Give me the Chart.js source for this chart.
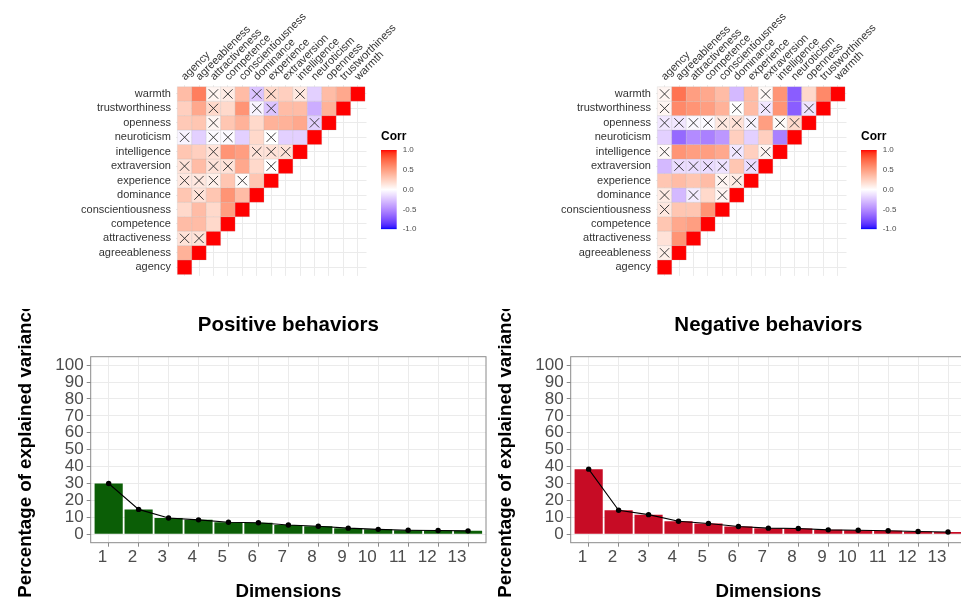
<!DOCTYPE html>
<html>
<head>
<meta charset="utf-8">
<script src="https://cdn.jsdelivr.net/npm/chart.js@4/dist/chart.umd.min.js"></script>
<style>
html,body{margin:0;padding:0;background:#fff;}
#wrap{position:relative;width:961px;height:603px;overflow:hidden;background:#fff;}
canvas{position:absolute;display:block;}
</style>
</head>
<body>
<div id="wrap">
  <canvas id="hm1" width="440" height="290" style="left:0px;top:0px"></canvas>
  <canvas id="hm2" width="440" height="290" style="left:480px;top:0px"></canvas>
  <canvas id="cb1" width="60" height="115" style="left:378px;top:125px"></canvas>
  <canvas id="cb2" width="60" height="115" style="left:858px;top:125px"></canvas>
  <canvas id="bar1" width="490" height="294" style="left:0px;top:309px"></canvas>
  <canvas id="bar2" width="490" height="294" style="left:480px;top:309px"></canvas>
</div>
<script>
// ---------------- DATA ----------------
const variables = ['agency','agreeableness','attractiveness','competence','conscientiousness','dominance','experience','extraversion','intelligence','neuroticism','openness','trustworthiness','warmth'];

// lower triangle: row i holds correlations of variables[i] with variables[0..i-1]
const posCorr = [
  [],
  [0.40],
  [0.15, 0.15],
  [0.35, 0.35, 0.20],
  [0.20, 0.35, 0.20, 0.50],
  [0.30, 0.15, 0.30, 0.55, 0.35],
  [0.12, 0.12, 0.08, 0.30, 0.02, 0.30],
  [0.15, 0.35, 0.15, 0.15, 0.45, 0.20, 0.00],
  [0.30, 0.25, 0.15, 0.55, 0.50, 0.15, 0.15, 0.15],
  [-0.05, -0.20, -0.02, -0.02, -0.20, 0.20, 0.00, -0.20, -0.20],
  [0.28, 0.30, 0.05, 0.30, 0.40, 0.20, 0.40, 0.40, 0.45, -0.20],
  [0.25, 0.45, 0.20, 0.20, 0.55, -0.05, -0.25, 0.35, 0.35, -0.35, 0.40],
  [0.35, 0.65, 0.05, 0.10, 0.35, -0.25, 0.20, 0.25, 0.12, -0.20, 0.35, 0.45]
];
// column indices of non-significant correlations (crossed cells), per row
const posInsig = [
  [], [], [0, 1], [], [], [1], [0, 1, 2, 4], [0, 2, 3, 6], [2, 5, 6, 7], [0, 2, 3, 6], [2, 9], [2, 5, 6], [2, 3, 5, 6, 8]
];

const negCorr = [
  [],
  [0.08],
  [0.15, 0.55],
  [0.30, 0.45, 0.50],
  [0.12, 0.30, 0.30, 0.55],
  [0.10, -0.30, -0.08, 0.20, 0.05],
  [0.30, 0.35, 0.30, 0.35, 0.05, 0.10],
  [-0.30, -0.15, -0.15, -0.15, -0.12, 0.30, -0.15],
  [0.03, 0.55, 0.50, 0.50, 0.45, -0.10, 0.25, 0.05],
  [-0.20, -0.65, -0.50, -0.55, -0.45, 0.25, -0.20, 0.25, -0.55],
  [-0.10, -0.10, -0.03, -0.02, 0.12, 0.15, -0.05, 0.50, 0.02, 0.20],
  [0.05, 0.60, 0.55, 0.50, 0.40, 0.00, 0.35, -0.10, 0.55, -0.70, -0.12],
  [0.05, 0.70, 0.50, 0.45, 0.35, -0.30, 0.35, 0.03, 0.55, -0.70, 0.20, 0.60]
];
const negInsig = [
  [], [0], [], [], [0], [0, 2, 4], [4, 5], [1, 2, 3, 4, 6], [0, 5, 7], [], [0, 1, 2, 3, 4, 5, 6, 8, 9], [0, 5, 7, 10], [0, 7]
];

const dimensionLabels = ['1','2','3','4','5','6','7','8','9','10','11','12','13'];
const dimensions = [1,2,3,4,5,6,7,8,9,10,11,12,13];
const posVariance = [30.0, 14.7, 9.6, 8.5, 7.1, 6.8, 5.5, 4.7, 3.6, 2.9, 2.4, 2.2, 2.0];
const negVariance = [38.5, 14.2, 11.6, 7.7, 6.4, 4.6, 3.6, 3.4, 2.6, 2.4, 2.1, 1.6, 1.3];
const varianceTicks = [0, 10, 20, 30, 40, 50, 60, 70, 80, 90, 100];

const legendTicks = [-1, -0.5, 0, 0.5, 1];

// ---------------- SETUP ----------------
const FONT = "'Liberation Sans', Arial, Helvetica, sans-serif";
Chart.defaults.font.family = FONT;
Chart.defaults.animation = false;
Chart.defaults.responsive = false;
Chart.defaults.devicePixelRatio = 1;
Chart.defaults.plugins.legend.display = false;
Chart.defaults.plugins.tooltip.enabled = false;

// Lab-space diverging palette blue - white - red
function srgbToLin(c){c/=255;return c<=0.04045?c/12.92:Math.pow((c+0.055)/1.055,2.4);}
function linToSrgb(c){c=c<=0.0031308?12.92*c:1.055*Math.pow(c,1/2.4)-0.055;return Math.round(Math.max(0,Math.min(1,c))*255);}
const Xn=0.95047,Yn=1,Zn=1.08883;
function rgbToLab(rgb){
  const R=srgbToLin(rgb[0]),G=srgbToLin(rgb[1]),B=srgbToLin(rgb[2]);
  const X=0.4124*R+0.3576*G+0.1805*B, Y=0.2126*R+0.7152*G+0.0722*B, Z=0.0193*R+0.1192*G+0.9505*B;
  const f=t=>t>0.008856?Math.cbrt(t):7.787*t+16/116;
  const fx=f(X/Xn),fy=f(Y/Yn),fz=f(Z/Zn);
  return [116*fy-16,500*(fx-fy),200*(fy-fz)];
}
function labToRgb(lab){
  const fy=(lab[0]+16)/116, fx=fy+lab[1]/500, fz=fy-lab[2]/200;
  const fi=t=>t>0.206893?t*t*t:(t-16/116)/7.787;
  const X=Xn*fi(fx),Y=Yn*fi(fy),Z=Zn*fi(fz);
  const R=3.2406*X-1.5372*Y-0.4986*Z, G=-0.9689*X+1.8758*Y+0.0415*Z, B=0.0557*X-0.2040*Y+1.0570*Z;
  return [linToSrgb(R),linToSrgb(G),linToSrgb(B)];
}
const LAB_LOW=rgbToLab([0,0,255]), LAB_MID=rgbToLab([255,255,255]), LAB_HIGH=rgbToLab([255,0,0]);
function corrColor(v){
  const t=Math.max(-1,Math.min(1,v));
  const end=t<0?LAB_LOW:LAB_HIGH, k=Math.abs(t);
  const c=labToRgb([0,1,2].map(i=>LAB_MID[i]+(end[i]-LAB_MID[i])*k));
  return 'rgb('+c[0]+','+c[1]+','+c[2]+')';
}

function cellPoints(corr){
  const pts=[];
  corr.forEach((row,i)=>{ row.forEach((v,j)=>pts.push({x:j,y:i,v:v})); pts.push({x:i,y:i,v:1}); });
  return pts;
}
function crossPoints(insig){
  const pts=[];
  insig.forEach((cols,i)=>cols.forEach(j=>pts.push({x:j,y:i})));
  return pts;
}
const setTicks = values => (s => { s.ticks = values.map(v => ({value: v})); });

// ---------------- HEATMAPS ----------------
function heatmap(id, corr, insig){
  const canvas=document.getElementById(id);
  const W=canvas.width, H=canvas.height;
  const AREA={left:175.9, right:366.5, top:85.3, bottom:275.9};
  const cellRadius=c=>{const s=c.chart.scales.x;return Math.abs(s.getPixelForValue(1)-s.getPixelForValue(0))/Math.SQRT2;};
  const tickFont={size:11};
  const idx=variables.map((_,i)=>i);
  new Chart(canvas,{
    type:'scatter',
    data:{datasets:[
      {data:crossPoints(insig), pointStyle:'crossRot', pointRadius:6.6, pointBorderColor:'#2b2b2b', pointBorderWidth:0.9, pointBackgroundColor:'rgba(0,0,0,0)', order:0},
      {data:cellPoints(corr), pointStyle:'rect', pointRadius:cellRadius, pointBackgroundColor:c=>corrColor(c.raw?c.raw.v:0), pointBorderColor:'rgba(180,180,180,0.35)', pointBorderWidth:0.6, order:1}
    ]},
    options:{
      layout:{padding:{left:0,top:0,right:W-AREA.right,bottom:H-AREA.bottom}},
      scales:{
        x:{type:'linear', position:'top', min:-0.6, max:12.6,
           afterBuildTicks:setTicks(idx),
           afterFit:s=>{s.height=AREA.top;},
           grid:{color:'#EBEBEB', lineWidth:1, drawTicks:false}, border:{display:false},
           ticks:{autoSkip:false, minRotation:45, maxRotation:45, padding:2, labelOffset:8, color:'#333', font:tickFont, callback:v=>variables[v]}},
        y:{type:'linear', min:-0.6, max:12.6,
           afterBuildTicks:setTicks(idx),
           afterFit:s=>{s.width=AREA.left;},
           grid:{color:'#EBEBEB', lineWidth:1, drawTicks:false}, border:{display:false},
           ticks:{autoSkip:false, padding:5, color:'#333', font:tickFont, callback:v=>variables[v]}}
      }
    }
  });
}

function colorbar(id){
  const canvas=document.getElementById(id);
  const W=canvas.width, H=canvas.height;
  const AREA={left:3, right:18.7, top:25, bottom:104.3};
  new Chart(canvas,{
    type:'bar',
    data:{labels:['Corr'], datasets:[{
      data:[[legendTicks[0], legendTicks[legendTicks.length-1]]],
      backgroundColor:c=>{
        const a=c.chart.chartArea; if(!a) return corrColor(0);
        const g=c.chart.ctx.createLinearGradient(0,a.bottom,0,a.top);
        for(let k=0;k<=40;k++){g.addColorStop(k/40, corrColor(-1+k/20));}
        return g;
      },
      borderWidth:0, barPercentage:1, categoryPercentage:1
    }]},
    options:{
      layout:{padding:{left:AREA.left, top:0, right:0, bottom:H-AREA.bottom}},
      plugins:{title:{display:true, text:'Corr', align:'start', color:'#000', font:{size:12, weight:'bold'}, padding:{top:4.8, bottom:5.8}}},
      scales:{
        x:{display:false},
        y:{position:'right', min:-1, max:1, afterBuildTicks:setTicks(legendTicks), afterFit:s=>{s.width=W-AREA.right;},
           grid:{display:false, drawTicks:false}, border:{display:false},
           ticks:{autoSkip:false, padding:6, color:'#4D4D4D', font:{size:8}, callback:v=>v.toFixed(1)}}
      }
    }
  });
}

// ---------------- SCREE BARS ----------------
const panelBorder={id:'panelBorder', afterDatasetsDraw(chart,args,o){
  const ctx=chart.ctx, a=chart.chartArea;
  ctx.save(); ctx.strokeStyle=o.color||'#888'; ctx.lineWidth=o.width||1;
  ctx.strokeRect(a.left,a.top,a.right-a.left,a.bottom-a.top); ctx.restore();
}};

function scree(id, values, color, title){
  const canvas=document.getElementById(id);
  const W=canvas.width, H=canvas.height;
  const AREA={left:90.7, right:486, top:47.7, bottom:233.7};
  const pts=dimensions.map((d,i)=>({x:d,y:values[i]}));
  const titleSize=20.5, titleLH=titleSize*1.2;
  new Chart(canvas,{
    type:'bar',
    plugins:[panelBorder],
    data:{datasets:[
      {type:'line', data:pts, borderColor:'#000', borderWidth:1.1, tension:0, pointRadius:2.7, pointBackgroundColor:'#000', pointBorderColor:'#000', pointBorderWidth:0, order:0},
      {type:'bar', data:pts, backgroundColor:color, borderWidth:0, barPercentage:0.94, categoryPercentage:1, order:1}
    ]},
    options:{
      layout:{padding:{left:0, top:0, right:W-AREA.right, bottom:0}},
      plugins:{
        title:{display:true, text:title, fullSize:false, color:'#000', font:{size:titleSize, weight:'bold'}, padding:{top:16-titleLH/2, bottom:AREA.top-(16+titleLH/2)}},
        panelBorder:{color:'#8a8a8a', width:1}
      },
      scales:{
        x:{type:'linear', offset:false, min:0.4, max:13.6,
           afterBuildTicks:setTicks(dimensions),
           afterFit:s=>{s.height=H-AREA.bottom;},
           grid:{offset:false, color:'#EBEBEB', lineWidth:1, tickColor:'#8a8a8a', tickLength:4}, border:{display:false},
           ticks:{autoSkip:false, maxRotation:0, align:'end', labelOffset:-1.5, padding:0, color:'#4D4D4D', font:{size:17}, callback:v=>dimensionLabels[v-1]},
           title:{display:true, text:'Dimensions', color:'#000', font:{size:18.7, weight:'bold'}, padding:{top:0, bottom:0}}},
        y:{type:'linear', min:-5, max:105,
           afterBuildTicks:setTicks(varianceTicks),
           afterFit:s=>{s.width=AREA.left;},
           grid:{color:'#EBEBEB', lineWidth:1, tickColor:'#8a8a8a', tickLength:4}, border:{display:false},
           ticks:{autoSkip:false, padding:3, color:'#4D4D4D', font:{size:17}},
           title:{display:true, text:'Percentage of explained variance', color:'#000', font:{size:18.7, weight:'bold'}, padding:{top:14.5, bottom:0}}}
      }
    }
  });
}

heatmap('hm1', posCorr, posInsig);
heatmap('hm2', negCorr, negInsig);
colorbar('cb1');
colorbar('cb2');
scree('bar1', posVariance, '#0B5E06', 'Positive behaviors');
scree('bar2', negVariance, '#C70C25', 'Negative behaviors');
</script>
</body>
</html>
